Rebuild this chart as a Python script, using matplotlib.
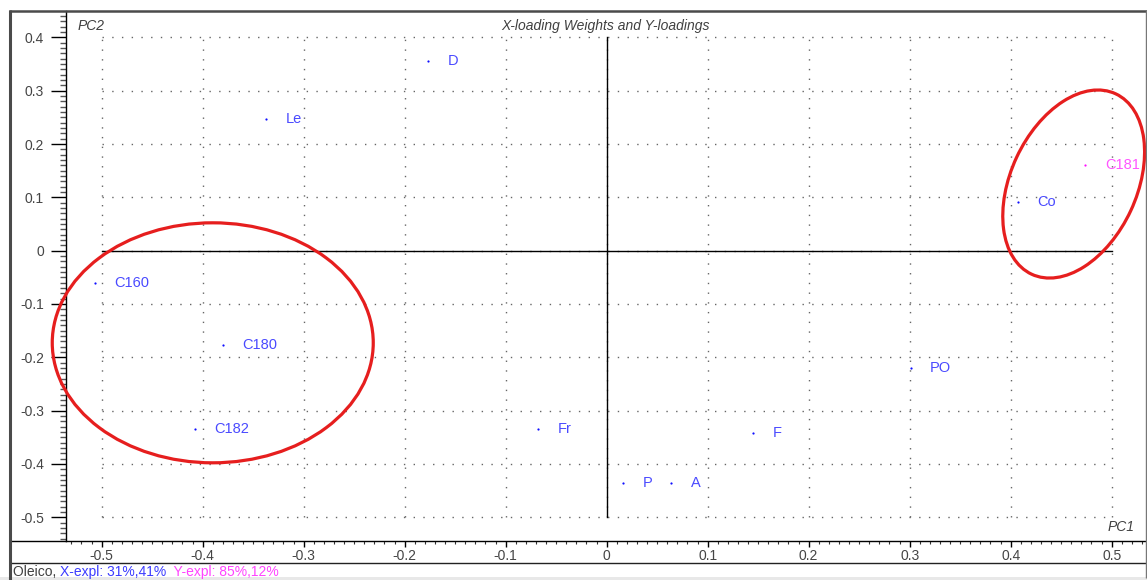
import matplotlib
matplotlib.use("Agg")
import matplotlib.pyplot as plt
import numpy as np
from matplotlib.patches import Ellipse, Rectangle
from matplotlib.lines import Line2D
from matplotlib.transforms import ScaledTranslation

plt.rcParams['font.family'] = ['Liberation Sans', 'DejaVu Sans']

# Loadings on the first two components
x_names = ["D", "Le", "C160", "C180", "C182", "Fr", "P", "A", "F", "PO", "Co"]
x_pc1 = [-0.177, -0.337, -0.507, -0.380, -0.408, -0.068, 0.016, 0.064, 0.145, 0.301, 0.407]
x_pc2 = [0.356, 0.247, -0.060, -0.177, -0.335, -0.335, -0.435, -0.435, -0.342, -0.220, 0.091]

y_names = ["C181"]
y_pc1 = [0.474]
y_pc2 = [0.160]

x_ticks = [-0.5, -0.4, -0.3, -0.2, -0.1, 0, 0.1, 0.2, 0.3, 0.4, 0.5]
y_ticks = [-0.5, -0.4, -0.3, -0.2, -0.1, 0, 0.1, 0.2, 0.3, 0.4]

W, H = 1147, 580
fig = plt.figure(figsize=(W / 100, H / 100), dpi=100)
fig.patch.set_facecolor("white")


def fx(px):
    return px / W


def fy(py):
    return 1 - py / H


ax = fig.add_axes([fx(66), fy(541), fx(1146) - fx(66), fy(11) - fy(541)])
ax.set_xlim(-0.5353, 0.534)
ax.set_ylim(-0.5445, 0.4495)
for s in ["top", "right"]:
    ax.spines[s].set_visible(False)
ax.spines["left"].set_color("black")
ax.spines["bottom"].set_color("black")
ax.spines["left"].set_linewidth(1.0)
ax.spines["bottom"].set_linewidth(1.0)

ax.set_xticks(x_ticks)
ax.set_xticklabels([f"{v:g}" for v in x_ticks])
ax.set_yticks(y_ticks)
ax.set_yticklabels([f"{v:g}" for v in y_ticks])
ax.set_xticks(np.round(np.arange(-0.53, 0.531, 0.01), 2), minor=True)
ax.set_yticks(np.round(np.arange(-0.54, 0.441, 0.01), 2), minor=True)

tick_col = "#454545"
ax.tick_params(axis="x", which="major", direction="out", length=4.5, width=1,
               labelsize=10, labelcolor=tick_col, pad=1.5)
ax.tick_params(axis="x", which="minor", direction="out", length=2.2, width=0.8,
               color="#333333")
ax.tick_params(axis="y", which="major", direction="out", length=10.8, width=1,
               labelsize=10, labelcolor=tick_col, pad=5)
ax.tick_params(axis="y", which="minor", direction="out", length=4.6, width=1.0,
               color="#555555")

# dotted grid bounded to the tick range
grid_kw = dict(color="#666666", linewidth=1.0, linestyle=(0, (1, 6)))
ax.hlines(y_ticks, x_ticks[0], x_ticks[-1], **grid_kw, zorder=1)
ax.vlines(x_ticks, y_ticks[0], y_ticks[-1], **grid_kw, zorder=1)

# zero axes
ax.plot([x_ticks[0], x_ticks[-1]], [0, 0], color="black", lw=1.0, zorder=2)
ax.plot([0, 0], [y_ticks[0], y_ticks[-1]], color="black", lw=1.0, zorder=2)

# X-loading weights (blue) and Y-loadings (magenta)
blue_pt, blue_txt = "#1010ff", "#4a4aff"
mag_pt, mag_txt = "#ff10ff", "#ff55ff"
ax.plot(x_pc1, x_pc2, linestyle="none", marker="o", ms=1.6, mew=0, color=blue_pt, zorder=3)
for n, a, b in zip(x_names, x_pc1, x_pc2):
    ax.annotate(n, (a, b), xytext=(14, 0), textcoords="offset points",
                ha="left", va="center", fontsize=10.5, color=blue_txt)
ax.plot(y_pc1, y_pc2, linestyle="none", marker="o", ms=1.6, mew=0, color=mag_pt, zorder=3)
for n, a, b in zip(y_names, y_pc1, y_pc2):
    ax.annotate(n, (a, b), xytext=(14, 0), textcoords="offset points",
                ha="left", va="center", fontsize=10.5, color=mag_txt)

# highlighted groups
def ring(cx, cy, w_in, h_in, angle):
    tr = fig.dpi_scale_trans + ScaledTranslation(cx, cy, ax.transData)
    ax.add_patch(Ellipse((0, 0), w_in, h_in, angle=angle, transform=tr,
                         fill=False, edgecolor="#e61e1e", linewidth=2.3,
                         zorder=4, clip_on=False))


ring(-0.390, -0.1728, 3.21, 2.40, 0)
ring(0.4624, 0.125, 1.99, 1.26, 65)

# titles inside the plot area
fig.text(fx(606), fy(26), "X-loading Weights and Y-loadings",
         ha="center", va="center", fontsize=10, style="italic", color="#404040")
fig.text(fx(78), fy(26), "PC2", ha="left", va="center", fontsize=10,
         style="italic", color="#404040")
fig.text(fx(1135), fy(527), "PC1", ha="right", va="center", fontsize=10,
         style="italic", color="#404040")

# window frame
def fline(x0, y0, x1, y1, color, lw):
    fig.add_artist(Line2D([fx(x0), fx(x1)], [fy(y0), fy(y1)], transform=fig.transFigure,
                          color=color, linewidth=lw, solid_capstyle="butt"))


fline(10, 541, 66, 541, "black", 1.0)
fline(9, 563, 1146, 563, "#222222", 1.0)
fline(9, 11, 1147, 11, "#4a4a4a", 1.8)
fline(10, 10, 10, 580, "#4a4a4a", 2.2)
fline(1146, 10, 1146, 578, "#777777", 1.0)
fig.add_artist(Rectangle((0, 0), 1, fy(577), transform=fig.transFigure,
                         facecolor="#e8e8e8", edgecolor="none"))

# status line
parts = [("Oleico, ", "#404040"), ("X-expl: 31%,41%", "#3b3bff"), ("  Y-expl: 85%,12%", "#ff44ff")]
fig.canvas.draw()
renderer = fig.canvas.get_renderer()
xpos = fx(13)
for txt, col in parts:
    t = fig.text(xpos, fy(572), txt, ha="left", va="center", fontsize=10, color=col)
    bb = t.get_window_extent(renderer)
    xpos += bb.width / (W)

fig.savefig("out.png", dpi=100, facecolor="white")
